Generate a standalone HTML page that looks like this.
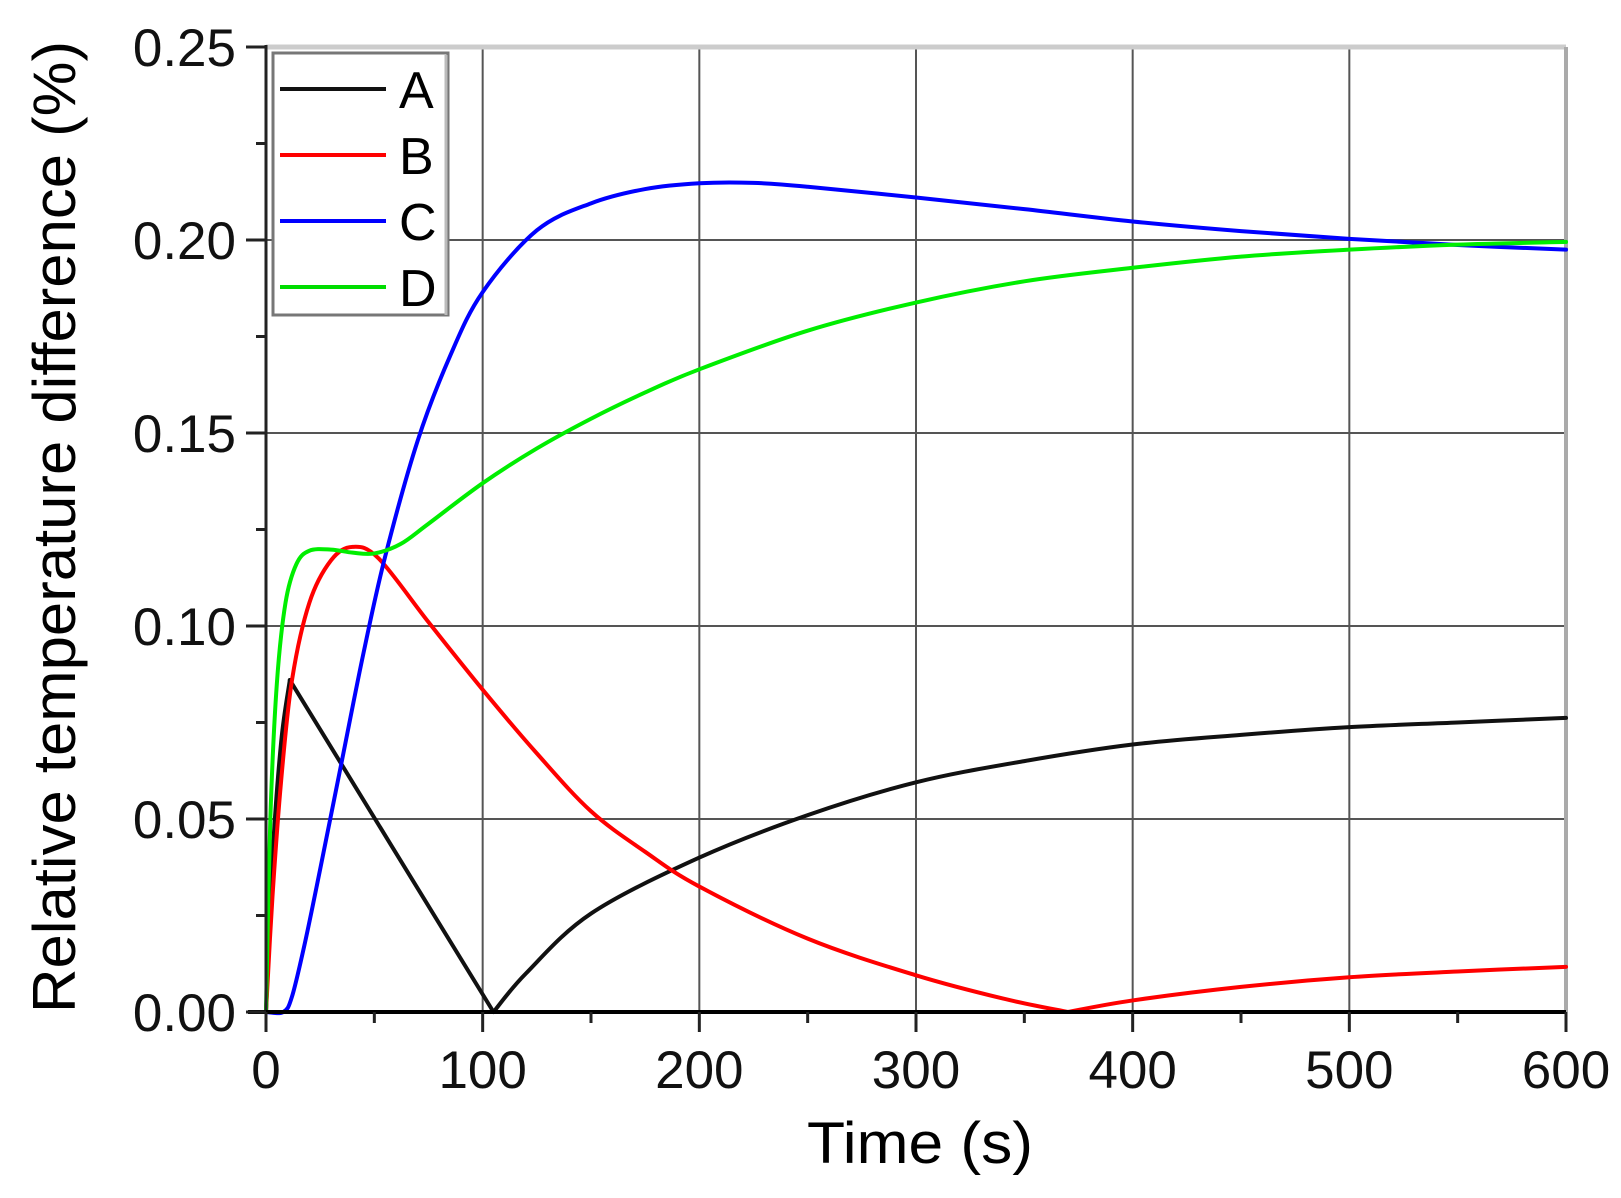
<!DOCTYPE html>
<html><head><meta charset="utf-8"><style>
html,body{margin:0;padding:0;background:#fff;}
svg{display:block;font-family:"Liberation Sans",Arial,sans-serif;}
</style></head><body>
<svg id="s" width="1621" height="1198" viewBox="0 0 1621 1198" xmlns="http://www.w3.org/2000/svg">
<rect width="1621" height="1198" fill="#fff"/>
<g id="grid" stroke="#555" stroke-width="2"></g>
<line x1="266" y1="47" x2="1566" y2="47" stroke="#ccc" stroke-width="5"/>
<line x1="1566" y1="47" x2="1566" y2="1012" stroke="#aaa" stroke-width="4"/>
<g id="curves" fill="none" stroke-width="4" stroke-linejoin="round" stroke-linecap="round"></g>
<line x1="266" y1="45" x2="266" y2="1014" stroke="#222" stroke-width="3"/>
<line x1="248" y1="1012" x2="1566" y2="1012" stroke="#000" stroke-width="4"/>
<g id="ticks" stroke="#222" stroke-width="3"></g>
<g id="labels" font-size="53" fill="#111"></g>
<rect x="273" y="53" width="175" height="262" fill="#fff" stroke="#777" stroke-width="3"/>
<line x1="446" y1="55" x2="446" y2="315" stroke="#bbb" stroke-width="3"/>
<line x1="280" y1="89" x2="386" y2="89" stroke="#111" stroke-width="4"/>
<line x1="280" y1="155" x2="386" y2="155" stroke="#f00" stroke-width="4"/>
<line x1="280" y1="221" x2="386" y2="221" stroke="#00f" stroke-width="4"/>
<line x1="280" y1="287" x2="386" y2="287" stroke="#0d0" stroke-width="4"/>
<g font-size="52" fill="#000">
<text x="399" y="108">A</text><text x="399" y="174">B</text><text x="399" y="240">C</text><text x="399" y="306">D</text>
</g>
<text x="920" y="1163" font-size="58" text-anchor="middle" textLength="226" lengthAdjust="spacingAndGlyphs">Time (s)</text>
<text transform="translate(75,527) rotate(-90)" font-size="60" text-anchor="middle" textLength="972" lengthAdjust="spacingAndGlyphs">Relative temperature difference (%)</text>
</svg>
<script>
const X=t=>266+t*1300/600, Y=v=>1012-v*3860;
const NS="http://www.w3.org/2000/svg";
function el(p,tag,a,txt){const e=document.createElementNS(NS,tag);for(const k in a)e.setAttribute(k,a[k]);if(txt!=null)e.textContent=txt;document.getElementById(p).appendChild(e);}
for(let t=100;t<600;t+=100)el("grid","line",{x1:X(t),y1:47,x2:X(t),y2:1012});
for(let v=0.05;v<0.24;v+=0.05)el("grid","line",{x1:266,y1:Y(v),x2:1566,y2:Y(v)});
for(let t=0;t<=600;t+=50){const maj=t%100==0;el("ticks","line",{x1:X(t),y1:1012,x2:X(t),y2:1012+(maj?20:11)});}
for(let i=0;i<=10;i++){const v=i*0.025;const maj=i%2==0;el("ticks","line",{x1:266,y1:Y(v),x2:266-(maj?20:10),y2:Y(v)});}
for(let t=0;t<=600;t+=100)el("labels","text",{x:X(t),y:1088,"text-anchor":"middle"},String(t));
["0.00","0.05","0.10","0.15","0.20","0.25"].forEach((s,i)=>el("labels","text",{x:236,y:Y(i*0.05)+19,"text-anchor":"end"},s));
function path(pts){pts=pts.map(p=>[X(p[0]),Y(p[1])]);let d="M"+pts[0][0]+","+pts[0][1];
for(let i=0;i<pts.length-1;i++){const p0=pts[Math.max(i-1,0)],p1=pts[i],p2=pts[i+1],p3=pts[Math.min(i+2,pts.length-1)];
const c1=[p1[0]+(p2[0]-p0[0])/6,p1[1]+(p2[1]-p0[1])/6],c2=[p2[0]-(p3[0]-p1[0])/6,p2[1]-(p3[1]-p1[1])/6];
d+=" C"+c1+" "+c2+" "+p2;}return d;}
const A1=[[0,0],[3,0.04],[7,0.07],[11,0.086]];
const A2=[[11,0.086],[105,0]];
const A3=[[105,0],[120,0.01],[150,0.0255],[200,0.040],[250,0.051],[300,0.0595],[350,0.065],[400,0.0693],[450,0.0718],[500,0.0738],[550,0.075],[600,0.0762]];
const B1=[[0,0],[3,0.03],[7,0.06],[12,0.086],[20,0.106],[30,0.117],[40,0.1205],[52,0.1175],[75,0.101],[100,0.0835],[125,0.067],[150,0.052],[175,0.0415],[200,0.0325],[250,0.019],[300,0.0095],[340,0.0035],[370,0]];
const B2=[[370,0],[400,0.003],[450,0.0065],[500,0.009],[550,0.0105],[600,0.0117]];
const C1=[[0,0],[8,0],[12,0.004],[18,0.018],[25,0.037],[35,0.065],[45,0.093],[55,0.118],[70,0.148],[85,0.17],[100,0.1865],[125,0.2025],[150,0.2095],[175,0.2132],[200,0.2147],[225,0.2148],[250,0.2138],[300,0.211],[350,0.208],[400,0.2048],[450,0.2023],[500,0.2003],[550,0.1987],[600,0.1975]];
const D1=[[0,0],[2,0.05],[5,0.085],[9,0.106],[14,0.116],[20,0.1195],[30,0.1198],[40,0.119],[50,0.1188],[62,0.1212],[75,0.1265],[100,0.137],[125,0.146],[150,0.1537],[175,0.1605],[200,0.1665],[250,0.1765],[300,0.1838],[350,0.1893],[400,0.1928],[450,0.1957],[500,0.1975],[550,0.1988],[600,0.1995]];
[[A1,"#111"],[A2,"#111"],[A3,"#111"],[B1,"#f00"],[B2,"#f00"],[C1,"#00f"],[D1,"#0e0"]].forEach(([p,c])=>el("curves","path",{d:path(p),stroke:c}));
</script>
</body></html>
